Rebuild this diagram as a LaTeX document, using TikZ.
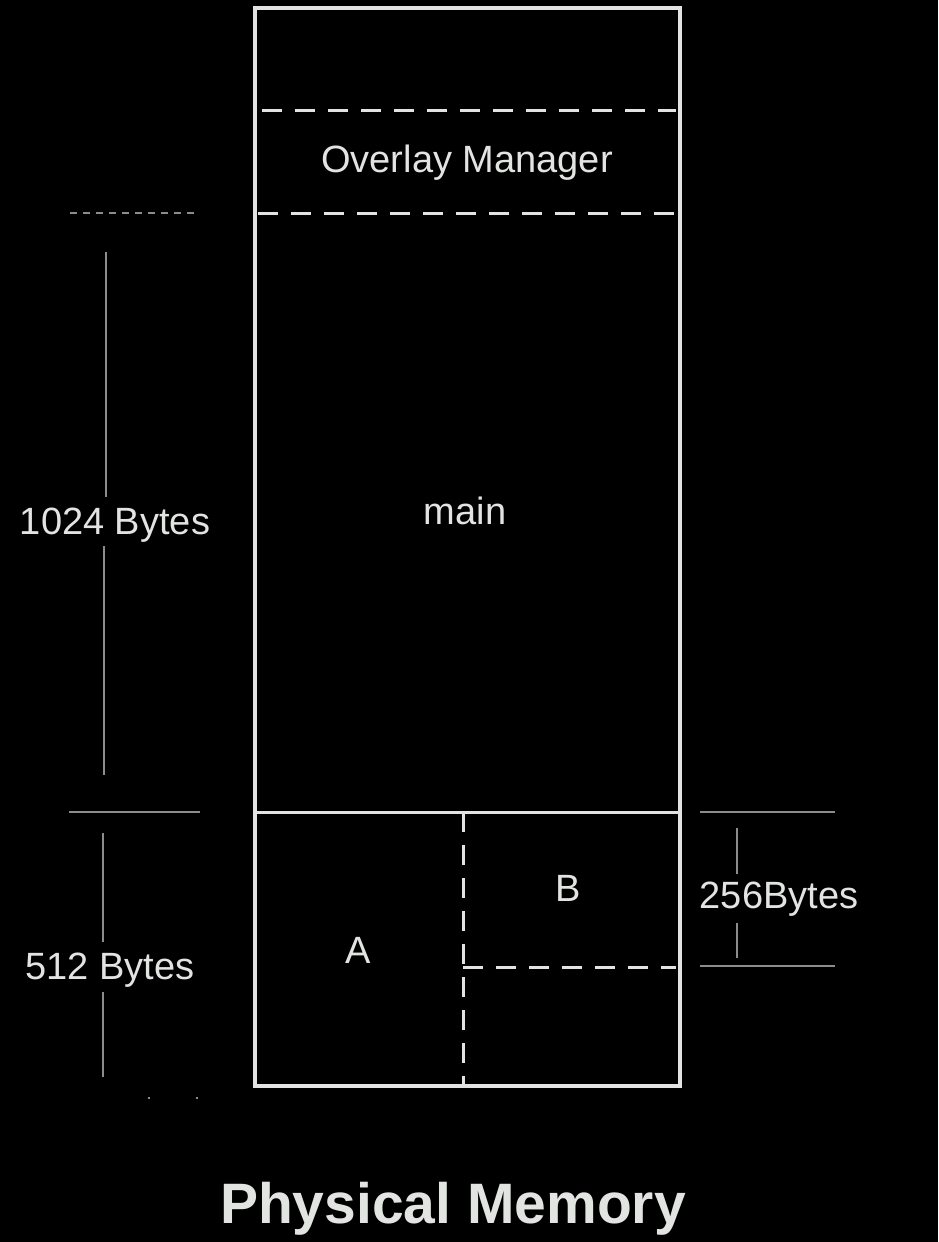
\documentclass[tikz,border=0pt]{standalone}
\usepackage{fontspec}
\setmainfont{Liberation Sans}
\begin{document}
\begin{tikzpicture}[x=1pt,y=-1pt,
  memline/.style={draw=fgc, line width=3.5pt},
  dashline/.style={draw=fgc, line width=3pt, dash pattern=on 20pt off 13pt},
  dimline/.style={draw=dimc, line width=2pt},
  dimdot/.style={draw=dimc, line width=2pt, dash pattern=on 7pt off 6pt},
  lbl/.style={text=fgc, font=\fontsize{38}{40}\selectfont, anchor=base, inner sep=0pt},
  title/.style={text=fgc, font=\fontsize{57}{60}\selectfont\bfseries, anchor=base, inner sep=0pt}]
\definecolor{fgc}{HTML}{E2E4E2}
\definecolor{dimc}{HTML}{8C8C8C}
\path[fill=black, use as bounding box] (0,0) rectangle (938,1242);

% outer memory box
\draw[memline] (255,8) rectangle (680,1086);
% overlay manager region
\draw[dashline] (262,110) -- (676,110);
\draw[dashline] (258,213) -- (676,213);
% bottom of main
\draw[memline, line width=3pt] (255,812) -- (680,812);
% A / B divider
\draw[dashline] (463,812) -- (463,1086);
% bottom of B
\draw[dashline] (463,967) -- (676,967);

% labels inside
\node[lbl] (om) at (467,172) {Overlay Manager};
\node[lbl] (main) at (465,524) {main};
\node[lbl] (A) at (358,963) {A};
\node[lbl] (B) at (568,901) {B};

% left dimension 1024
\coordinate (t1a) at (70,213);
\coordinate (t1b) at (198,213);
\draw[dimdot] (t1a) -- (t1b);
\node[lbl] (k1024) at (115,534) {1024 Bytes};
\coordinate (v1t) at (106,252);
\coordinate (v1b) at (104,775);
\draw[dimline] (v1t) -- (106,497);
\draw[dimline] (104,546) -- (v1b);
\coordinate (h2a) at (69,812);
\coordinate (h2b) at (200,812);
\draw[dimline] (h2a) -- (h2b);

% left dimension 512
\node[lbl] (k512) at (110,979) {512 Bytes};
\coordinate (v2t) at (103,833);
\coordinate (v2b) at (103,1077);
\draw[dimline] (v2t) -- (103,942);
\draw[dimline] (103,992) -- (v2b);
\coordinate (h3a) at (148,1098);
\coordinate (h3b) at (198,1098);
\draw[dimline, dash pattern=on 2pt off 46pt] (h3a) -- (h3b);

% right dimension 256
\coordinate (r1a) at (700,812);
\coordinate (r1b) at (835,812);
\coordinate (r2a) at (700,966);
\coordinate (r2b) at (835,966);
\draw[dimline] (r1a) -- (r1b);
\draw[dimline] (r2a) -- (r2b);
\node[lbl] (k256) at (779,908) {256Bytes};
\draw[dimline] (737,828) -- (737,874);
\draw[dimline] (737,923) -- (737,958);

% title
\node[title] (pm) at (453,1223) {Physical Memory};
\end{tikzpicture}
\end{document}
